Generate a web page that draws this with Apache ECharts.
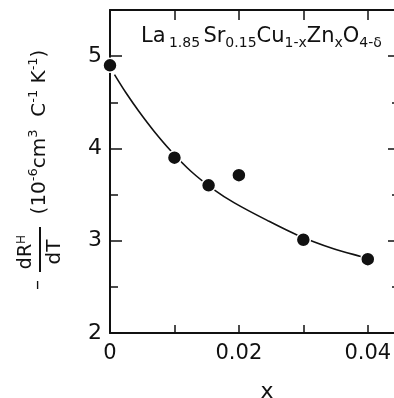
<!DOCTYPE html>
<html>
<head>
<meta charset="utf-8">
<script src="https://cdn.jsdelivr.net/npm/echarts@6/dist/echarts.min.js"></script>
<style>
    html, body { margin: 0; padding: 0; background: #fff; }
    #box { width: 394px; height: 398px; }
</style>
</head>
<body>
<div id="box"></div>
<script>
; (function () {
    // measured points
    const sampleX = [0, 0.01, 0.0153, 0.02, 0.03, 0.04],
        sampleY = [4.90, 3.90, 3.60, 3.71, 3.01, 2.80];

    // hand drawn fit curve
    const fitX = [0.0007, 0.0025, 0.0045, 0.0068, 0.0095, 0.0126, 0.0160, 0.0193, 0.0244, 0.0291, 0.0348, 0.0389, 0.0400],
        fitY = [4.80, 4.60, 4.40, 4.19, 3.97, 3.75, 3.56, 3.41, 3.22, 3.06, 2.91, 2.83, 2.81];

    const xTickLabels = ['0', '0.02', '0.04'],
        yTickLabels = ['2', '3', '4', '5'];

    const ink = '#111',
        font = 'DejaVu Sans';

    init();

    function init() {
        const chart = echarts.init(document.getElementById('box'), null, { renderer: 'canvas' });
        chart.setOption(buildOption());
    }

    function zip(xs, ys) {
        return xs.map((x, i) => [x, ys[i]]);
    }

    function xAxisOf(position, tickLen, showLabel) {
        return {
            type: 'value',
            position: position,
            min: 0,
            max: 0.045,
            interval: 0.01,
            axisLine: { show: true, lineStyle: { color: ink, width: 2 } },
            axisTick: { show: true, inside: true, length: tickLen, lineStyle: { color: ink, width: 1.5 } },
            splitLine: { show: false },
            axisLabel: {
                show: showLabel,
                showMaxLabel: false,
                margin: 10,
                color: ink,
                fontFamily: font,
                fontSize: 21,
                formatter: function (v) {
                    const idx = xTickLabels.indexOf(v === 0 ? '0' : v.toFixed(2));
                    return idx >= 0 && Math.round(v * 1000) % 20 === 0 ? xTickLabels[idx] : '';
                }
            }
        };
    }

    function yAxisOf(position, interval, tickLen, showLine, showLabel) {
        return {
            type: 'value',
            position: position,
            min: 2,
            max: 5.5,
            interval: interval,
            axisLine: { show: showLine, lineStyle: { color: ink, width: 2 } },
            axisTick: { show: true, inside: true, length: tickLen, lineStyle: { color: ink, width: 1.5 } },
            splitLine: { show: false },
            axisLabel: {
                show: showLabel,
                margin: 8,
                color: ink,
                fontFamily: font,
                fontSize: 22,
                formatter: function (v) {
                    return yTickLabels.indexOf(String(v)) >= 0 ? String(v) : '';
                }
            }
        };
    }

    function buildOption() {
        const formula = '{m|La} {s|1.85} {m|Sr}{s|0.15}{m|Cu}{s|1-x}{m|Zn}{s|x}{m|O}{s|4-δ}';
        const units = '{m|(10}{p|-6}{m|cm}{p|3}{m|  C}{p|-1}{m| K}{p|-1}{m|)}';

        return {
            backgroundColor: '#fff',
            animation: false,
            grid: { left: 110, top: 10, width: 290, height: 323, outerBoundsMode: 'none', containLabel: false },
            xAxis: [
                Object.assign(xAxisOf('bottom', 8, true), {
                    name: 'x',
                    nameLocation: 'middle',
                    nameGap: 48,
                    nameTextStyle: { color: ink, fontFamily: font, fontSize: 22, padding: [0, 0, 0, 24] }
                }),
                xAxisOf('top', 10, false)
            ],
            yAxis: [
                yAxisOf('left', 0.5, 8, true, false),
                yAxisOf('left', 1, 12, false, true),
                yAxisOf('right', 0.5, 8, true, false),
                yAxisOf('right', 1, 12, false, false)
            ],
            graphic: [
                {
                    type: 'text',
                    x: 141,
                    y: 37,
                    style: {
                        text: formula,
                        fill: ink,
                        verticalAlign: 'middle',
                        rich: {
                            m: { fontFamily: font, fontSize: 21, lineHeight: 26, fill: ink },
                            s: { fontFamily: font, fontSize: 14, lineHeight: 14, verticalAlign: 'bottom', fill: ink }
                        }
                    }
                },
                {
                    type: 'group',
                    x: 40,
                    y: 200,
                    rotation: Math.PI / 2,
                    children: [
                        {
                            type: 'text',
                            x: 68,
                            y: 0,
                            style: {
                                text: units,
                                align: 'center',
                                verticalAlign: 'middle',
                                fill: ink,
                                rich: {
                                    m: { fontFamily: font, fontSize: 20, lineHeight: 26, fill: ink },
                                    p: { fontFamily: font, fontSize: 13, lineHeight: 13, verticalAlign: 'top', fill: ink }
                                }
                            }
                        },
                        {
                            type: 'line',
                            shape: { x1: -72, y1: 0, x2: -27, y2: 0 },
                            style: { stroke: ink, lineWidth: 2 }
                        },
                        {
                            type: 'text',
                            x: -52,
                            y: -14,
                            style: {
                                text: '{m|dR}{h|H}',
                                align: 'center',
                                verticalAlign: 'middle',
                                fill: ink,
                                rich: {
                                    m: { fontFamily: font, fontSize: 19, lineHeight: 20, fill: ink },
                                    h: { fontFamily: font, fontSize: 12, lineHeight: 18, verticalAlign: 'top', fill: ink }
                                }
                            }
                        },
                        {
                            type: 'text',
                            x: -52,
                            y: 15,
                            style: {
                                text: 'dT',
                                align: 'center',
                                verticalAlign: 'middle',
                                fontFamily: font,
                                fontSize: 20,
                                fill: ink
                            }
                        },
                        {
                            type: 'text',
                            x: -85,
                            y: -2,
                            style: {
                                text: '–',
                                align: 'center',
                                verticalAlign: 'middle',
                                fontFamily: font,
                                fontSize: 20,
                                fill: ink
                            }
                        }
                    ]
                }
            ],
            series: [
                {
                    type: 'line',
                    data: zip(fitX, fitY),
                    smooth: 0.3,
                    showSymbol: false,
                    silent: true,
                    lineStyle: { color: ink, width: 1.6 },
                    z: 2
                },
                {
                    type: 'scatter',
                    data: zip(sampleX, sampleY),
                    symbol: 'circle',
                    symbolSize: 14,
                    clip: false,
                    itemStyle: { color: ink, opacity: 1, borderColor: '#fff', borderWidth: 1.5 },
                    z: 3
                }
            ]
        };
    }
})()
</script>
</body>
</html>
